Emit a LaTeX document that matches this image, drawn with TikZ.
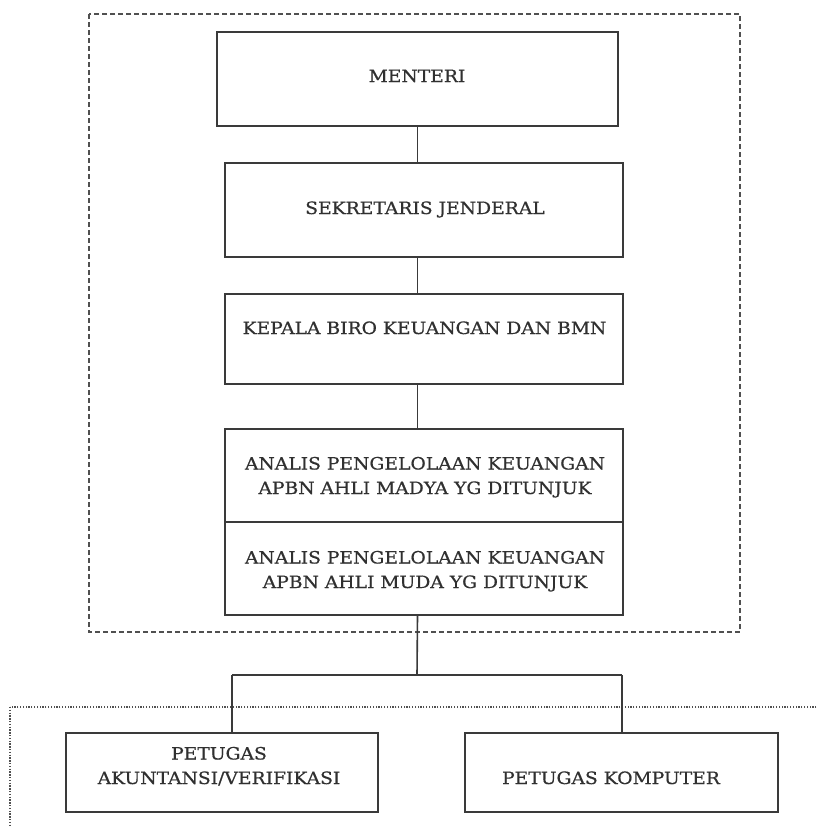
\documentclass[tikz,border=0pt]{standalone}
\usepackage{fontspec}
\setmainfont{DejaVu Serif}[FakeStretch=1.1,FakeBold=0.6]
\definecolor{linec}{HTML}{3A3A3A}
\definecolor{txtc}{HTML}{303030}
\definecolor{dashc}{HTML}{505050}
\begin{document}
\begin{tikzpicture}[x=1pt,y=-1pt,
  box/.style={draw=linec, line width=1.8pt, rectangle, inner sep=0pt},
  lbl/.style={text=txtc, font=\fontsize{17}{24.5}\selectfont, anchor=base, align=center, inner sep=0pt},
  conn/.style={draw=linec, line width=1.6pt},
  outerframe/.style={draw=dashc, line width=1.5pt, dash pattern=on 5pt off 3pt},
  lowerframe/.style={draw=dashc, line width=1.5pt, dash pattern=on 1.3pt off 1.5pt}]
\useasboundingbox (0,0) rectangle (818,827);
\clip (0,0) rectangle (818,827);
\fill[white] (0,0) rectangle (818,827);

% frames
\draw[outerframe] (89,14) rectangle (740,632);
\draw[lowerframe] (10,707) rectangle (840,850);

% boxes
\node[box, minimum width=401pt, minimum height=94pt] (menteri) at (417.5,79) {};
\node[box, minimum width=398pt, minimum height=94pt] (sekjen) at (424,210) {};
\node[box, minimum width=398pt, minimum height=90pt] (kepala) at (424,339) {};
\node[box, minimum width=398pt, minimum height=93pt] (madya) at (424,475.5) {};
\node[box, minimum width=398pt, minimum height=93pt] (muda) at (424,568.5) {};
\node[box, minimum width=312pt, minimum height=79pt] (akun) at (222,772.5) {};
\node[box, minimum width=313pt, minimum height=79pt] (komp) at (621.5,772.5) {};

% labels (anchor=base is the baseline of the last line)
\node[lbl] (tmenteri) at (417,82) {MENTERI};
\node[lbl] (tsekjen) at (425,214) {SEKRETARIS JENDERAL};
\node[lbl] (tkepala) at (424.5,334) {KEPALA BIRO KEUANGAN DAN BMN};
\node[lbl] (tmadya) at (425,494) {ANALIS PENGELOLAAN KEUANGAN\\APBN AHLI MADYA YG DITUNJUK};
\node[lbl] (tmuda) at (425,588) {ANALIS PENGELOLAAN KEUANGAN\\APBN AHLI MUDA YG DITUNJUK};
\node[lbl] (takun) at (219,784) {PETUGAS\\AKUNTANSI/VERIFIKASI};
\node[lbl] (tkomp) at (611,784) {PETUGAS KOMPUTER};

% connectors
\coordinate (fork) at (417,675);
\coordinate (bl) at (232,675);
\coordinate (br) at (622,675);
\draw[conn] (menteri.south) -- (menteri.south |- sekjen.north);
\draw[conn] (menteri.south |- sekjen.south) -- (menteri.south |- kepala.north);
\draw[conn] (menteri.south |- kepala.south) -- (menteri.south |- madya.north);
\draw[conn] (menteri.south |- muda.south) -- (fork);
\draw[conn] (bl) -- (br);
\draw[conn] (bl) -- (bl |- akun.north);
\draw[conn] (br) -- (br |- komp.north);
\end{tikzpicture}
\end{document}
